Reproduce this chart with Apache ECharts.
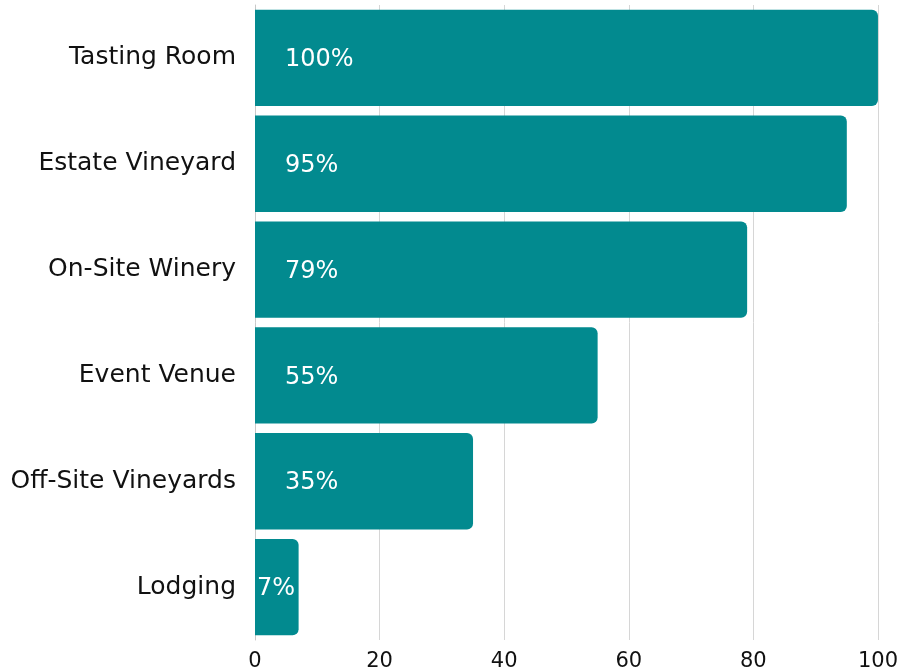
<!DOCTYPE html>
<html><head><meta charset="utf-8">
<script src="https://cdn.jsdelivr.net/npm/echarts@6/dist/echarts.min.js"></script>
<style>html,body{margin:0;padding:0;background:#fff}#c{width:901px;height:672px}</style>
</head><body><div id="c"></div>
<script>
const categories = ["Tasting Room","Estate Vineyard","On-Site Winery","Event Venue","Off-Site Vineyards","Lodging"];
const values = [100,95,79,55,35,7];
const xTicks = [0,20,40,60,80,100];
const chart = echarts.init(document.getElementById('c'));
const FONT = "DejaVu Sans";
chart.setOption({
  animation:false,
  grid:{left:255,right:22,top:5,bottom:32,containLabel:false},
  xAxis:{type:'value',min:xTicks[0],max:xTicks[xTicks.length-1],interval:20,
    axisLine:{show:false},axisTick:{show:false},
    axisLabel:{color:'#111',fontSize:21,fontFamily:FONT,margin:11},
    splitLine:{lineStyle:{color:'#d6d6d6',width:1}}},
  yAxis:{type:'category',data:categories,inverse:true,
    axisLine:{show:true,lineStyle:{color:'#c8c8c8'}},axisTick:{show:false},
    axisLabel:{color:'#111',fontSize:25,fontFamily:FONT,margin:19}},
  series:[{type:'bar',barCategoryGap:'9%',
    data:values.map((v,i)=>({value:v,label:i===values.length-1?{distance:2}:{}})),
    itemStyle:{color:'#028a8f',borderRadius:[0,6,6,0]},
    label:{show:true,position:'insideLeft',distance:30,color:'#fff',fontSize:24,fontFamily:FONT,
      offset:[0,2],formatter:p=>p.value+'%'}}]
});
</script></body></html>
